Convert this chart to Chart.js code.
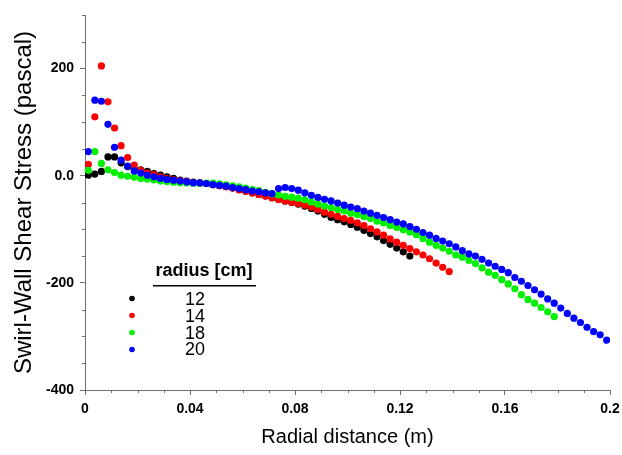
<!DOCTYPE html>
<html>
<head>
<meta charset="utf-8">
<script src="https://cdn.jsdelivr.net/npm/chart.js@4/dist/chart.umd.min.js"></script>
<style>
  html, body { margin: 0; padding: 0; background: #fff; }
  #wrap { width: 622px; height: 455px; }
</style>
</head>
<body>
<div id="wrap"><canvas id="graph1" width="622" height="455"></canvas></div>
<script>
// radial positions (m), shared by all four radii
const radialPos = [
  0.00125, 0.00375, 0.00625, 0.00875, 0.01125, 0.01375, 0.01625, 0.01875, 0.02125, 0.02375,
  0.02625, 0.02875, 0.03125, 0.03375, 0.03625, 0.03875, 0.04125, 0.04375, 0.04625, 0.04875,
  0.05125, 0.05375, 0.05625, 0.05875, 0.06125, 0.06375, 0.06625, 0.06875, 0.07125, 0.07375,
  0.07625, 0.07875, 0.08125, 0.08375, 0.08625, 0.08875, 0.09125, 0.09375, 0.09625, 0.09875,
  0.10125, 0.10375, 0.10625, 0.10875, 0.11125, 0.11375, 0.11625, 0.11875, 0.12125, 0.12375,
  0.12625, 0.12875, 0.13125, 0.13375, 0.13625, 0.13875, 0.14125, 0.14375, 0.14625, 0.14875,
  0.15125, 0.15375, 0.15625, 0.15875, 0.16125, 0.16375, 0.16625, 0.16875, 0.17125, 0.17375,
  0.17625, 0.17875, 0.18125, 0.18375, 0.18625, 0.18875, 0.19125, 0.19375, 0.19625, 0.19875
];

const radii = ['12', '14', '18', '20'];
const colors = ['#000000', '#ff0000', '#00f000', '#0000ff'];

// shear stress (pascal)
const stress12 = [
  1, 3, 8, 35, 35, 24, 17, 13, 11, 8,
  4, 1, -2, -5, -8, -10, -12, -13.5, -14.5, -16.5,
  -18.5, -20.5, -23, -26, -29, -32, -35, -38, -41, -44,
  -47, -50, -53, -57, -61, -66, -72, -78, -82, -86,
  -91, -96, -102, -108, -114, -121, -128, -135, -142, -150
];
const stress14 = [
  21, 110, 205, 138, 89, 56, 34, 20, 10, 5,
  2, -2, -5, -7.5, -9.5, -11, -12.5, -13.5, -14.5, -16.5,
  -18.5, -20.5, -23, -26, -29, -32, -35, -38, -41, -44.5,
  -47, -49.5, -52, -55, -58.5, -63, -68, -72, -76, -80,
  -83.5, -88, -93, -99, -105, -111, -118, -124, -130, -136,
  -142, -148, -155, -163, -171, -179
];
const stress18 = [
  10, 45, 23, 11, 6, 1, -1, -3, -5, -6,
  -8, -10, -11, -12, -13, -13.5, -14, -14, -14, -14,
  -15, -17, -19, -21, -23, -26, -28, -31, -34, -36,
  -38.5, -40, -42, -45, -49, -53, -56.5, -59.5, -63, -66,
  -70, -72.5, -76, -80, -85, -88, -93, -96.5, -101, -105,
  -110, -117, -124, -130, -135, -141, -148, -152, -158, -164,
  -172, -180, -186, -194, -202, -211, -222, -231, -238, -246,
  -254, -263
];
const stress20 = [
  45, 141, 139, 96, 53, 29, 18, 9, 5, 1,
  -2, -5, -7, -8.5, -10, -11.5, -13, -13.5, -14.5, -16.5,
  -18, -19.5, -22, -24, -26, -28.5, -30, -32, -33.5, -24,
  -22, -24, -27, -32, -36.5, -40.5, -44, -47, -51, -55,
  -58.5, -61.5, -66, -70, -74, -78, -82, -86.5, -90, -95,
  -100, -106, -111, -117, -122, -127, -133, -140, -146, -150,
  -156, -163, -169, -175, -181, -190, -197, -205, -213, -221,
  -230, -238, -247, -257, -266, -274, -283, -291, -297, -307
];

const allStress = [stress12, stress14, stress18, stress20];
const axisColor = '#6e6e6e';

Chart.defaults.font.family = 'Arial, "Liberation Sans", sans-serif';
Chart.defaults.color = '#000';

// short minor ticks between the labelled ones
const minorTicks = {
  id: 'minorTicks',
  afterDraw(chart) {
    const ctx = chart.ctx;
    const xs = chart.scales.x, ys = chart.scales.y;
    ctx.save();
    ctx.strokeStyle = axisColor;
    ctx.lineWidth = 1;
    ctx.beginPath();
    for (let i = 1; i <= 20; i++) {
      if (i % 4 === 0) continue;
      const px = Math.round(xs.getPixelForValue(i * 0.01)) + 0.5;
      ctx.moveTo(px, ys.bottom);
      ctx.lineTo(px, ys.bottom + 3);
    }
    for (let v = -350; v <= 300; v += 50) {
      if (v % 200 === 0) continue;
      const py = Math.round(ys.getPixelForValue(v)) + 0.5;
      ctx.moveTo(xs.left, py);
      ctx.lineTo(xs.left - 3, py);
    }
    ctx.stroke();
    ctx.restore();
  }
};

// legend: title with rule, dot, value
const radiusLegend = {
  id: 'radiusLegend',
  afterDraw(chart) {
    const ctx = chart.ctx;
    ctx.save();
    ctx.fillStyle = '#000';
    ctx.textAlign = 'center';
    ctx.textBaseline = 'middle';
    ctx.font = 'bold 18px Arial, "Liberation Sans", sans-serif';
    ctx.fillText('radius [cm]', 204, 271);
    ctx.fillRect(153, 285, 103, 1.5);
    ctx.font = '18px Arial, "Liberation Sans", sans-serif';
    chart.data.datasets.forEach((ds, i) => {
      ctx.fillStyle = ds.backgroundColor;
      ctx.beginPath();
      ctx.arc(132, 298.5 + i * 17, 2.8, 0, Math.PI * 2);
      ctx.fill();
      ctx.fillStyle = '#000';
      ctx.fillText(ds.label, 195, 300 + i * 16.8);
    });
    ctx.restore();
  }
};

const datasets = radii.map((r, k) => ({
  label: r,
  data: allStress[k].map((y, i) => ({ x: radialPos[i], y: y })),
  backgroundColor: colors[k],
  borderColor: colors[k],
  borderWidth: 0,
  pointRadius: 3.6,
  pointHoverRadius: 3.6,
  showLine: false,
  order: 3 - k
}));

const ctx = document.getElementById('graph1').getContext('2d');
const chart = new Chart(ctx, {
  type: 'scatter',
  data: { datasets: datasets },
  options: {
    responsive: false,
    animation: false,
    layout: { padding: { left: 8, right: 12, top: 15, bottom: 2 } },
    plugins: { legend: { display: false }, tooltip: { enabled: false } },
    scales: {
      x: {
        type: 'linear',
        min: 0,
        max: 0.2,
        afterFit: (s) => { s.height = 63; s.paddingLeft = 0; s.paddingRight = 0; },
        border: { color: axisColor, width: 1 },
        grid: { drawOnChartArea: false, drawTicks: true, tickLength: 5, color: axisColor },
        ticks: {
          stepSize: 0.04,
          padding: 6,
          maxRotation: 0,
          font: { size: 14, weight: 'bold' },
          callback: (v) => (v === 0 ? '0' : String(Math.round(v * 100) / 100))
        },
        title: {
          display: true,
          text: 'Radial distance (m)',
          font: { size: 20 },
          padding: { top: 4, bottom: 4 }
        }
      },
      y: {
        type: 'linear',
        min: -400,
        max: 300,
        afterFit: (s) => { s.width = 77; },
        border: { color: axisColor, width: 1 },
        grid: { drawOnChartArea: false, drawTicks: true, tickLength: 5, color: axisColor },
        ticks: {
          stepSize: 200,
          includeBounds: false,
          padding: 6,
          font: { size: 14, weight: 'bold' },
          callback: (v) => (v === 0 ? '0.0' : String(v))
        },
        title: {
          display: true,
          text: 'Swirl-Wall Shear Stress (pascal)',
          font: { size: 24 },
          padding: { top: 2, bottom: 4 }
        }
      }
    }
  },
  plugins: [minorTicks, radiusLegend]
});
</script>
</body>
</html>
